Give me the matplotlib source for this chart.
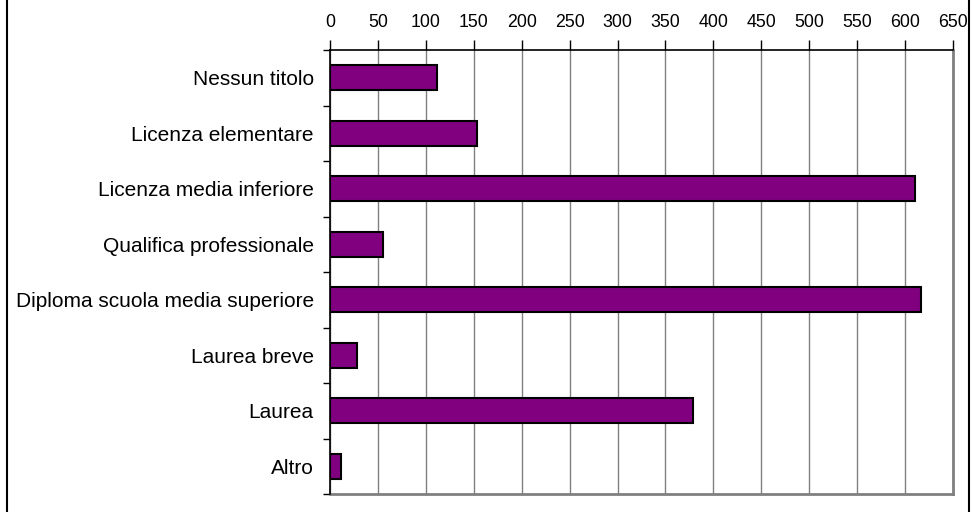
import numpy as np
import matplotlib
matplotlib.use("Agg")
import matplotlib.pyplot as plt
from matplotlib.lines import Line2D
from matplotlib import font_manager

categories = [
    "Nessun titolo",
    "Licenza elementare",
    "Licenza media inferiore",
    "Qualifica professionale",
    "Diploma scuola media superiore",
    "Laurea breve",
    "Laurea",
    "Altro",
]
values = [111, 153, 611, 55, 617, 28, 379, 11]
x_ticks = list(range(0, 651, 50))

plt.rcParams["font.family"] = ["Liberation Sans", "DejaVu Sans"]

# narrow face for the value-axis digits, when available
installed = {f.name for f in font_manager.fontManager.ttflist}
digit_family = ["Liberation Sans Narrow"] if "Liberation Sans Narrow" in installed else ["Liberation Sans"]

W, H = 972, 512
fig = plt.figure(figsize=(W / 100, H / 100), dpi=100)
fig.patch.set_facecolor("white")

left, right, top, bottom = 330.3, 952.7, 50, 494
ax = fig.add_axes([left / W, 1 - bottom / H, (right - left) / W, (bottom - top) / H])

n = len(categories)
pos = np.arange(n)
ax.barh(pos, values, height=0.45, color="#800080", edgecolor="black",
        linewidth=1.5, zorder=3)

ax.set_xlim(0, 650)
ax.set_ylim(n - 0.5, -0.5)

# value axis on top
ax.xaxis.tick_top()
ax.set_xticks(x_ticks)
ax.set_xticklabels([str(t) for t in x_ticks], family=digit_family, fontsize=12.8)
ax.tick_params(axis="x", which="major", length=7, width=1, color="black",
               pad=6.5, labelcolor="black")
ax.xaxis.grid(True, color="#808080", linewidth=1, zorder=0)

# category axis: ticks at boundaries, labels at centers
ax.set_yticks(np.arange(-0.5, n, 1.0))
ax.set_yticklabels([])
ax.set_yticks(pos, minor=True)
ax.set_yticklabels(categories, minor=True)
ax.tick_params(axis="y", which="major", length=5, width=1, color="black")
ax.tick_params(axis="y", which="minor", length=0, labelsize=15, pad=12)

for s in ("top", "left"):
    ax.spines[s].set_color("black")
    ax.spines[s].set_linewidth(1.2)
    ax.spines[s].set_zorder(4)
for s in ("right", "bottom"):
    ax.spines[s].set_color("#808080")
    ax.spines[s].set_linewidth(2)

# outer chart frame
for xp in (6.5, 968.5):
    fig.add_artist(Line2D([xp / W, xp / W], [0, 1], color="black", linewidth=1.5))

fig.savefig("out.png", dpi=100, facecolor="white")
